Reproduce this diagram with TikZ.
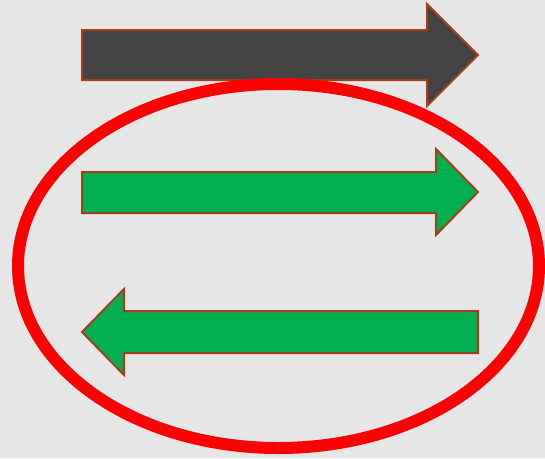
\documentclass[tikz,border=0pt]{standalone}
\definecolor{bgc}{RGB}{230,230,230}
\definecolor{darkfill}{RGB}{67,67,67}
\definecolor{greenfill}{RGB}{0,176,80}
\definecolor{outl}{RGB}{165,62,30}
\begin{document}
\begin{tikzpicture}[x=1pt,y=-1pt,
  arrowshape/.style={draw=outl,line width=2pt,line join=miter},
  ring/.style={draw=red,line width=12pt}]
\fill[bgc] (0,0) rectangle (545,458);
\useasboundingbox (0,0) rectangle (545,458);
% dark arrow
\filldraw[arrowshape,fill=darkfill] (82,30) -- (427,30) -- (427,4) -- (478,55) -- (427,106) -- (427,80) -- (82,80) -- cycle;
% green right arrow
\filldraw[arrowshape,fill=greenfill] (82,172) -- (436,172) -- (436,149) -- (478,192) -- (436,235) -- (436,213) -- (82,213) -- cycle;
% green left arrow
\filldraw[arrowshape,fill=greenfill] (478,311) -- (124,311) -- (124,289) -- (82,332) -- (124,375) -- (124,353) -- (478,353) -- cycle;
% red ellipse
\draw[ring] (278.5,266) ellipse [x radius=260.5, y radius=182];
\end{tikzpicture}
\end{document}
